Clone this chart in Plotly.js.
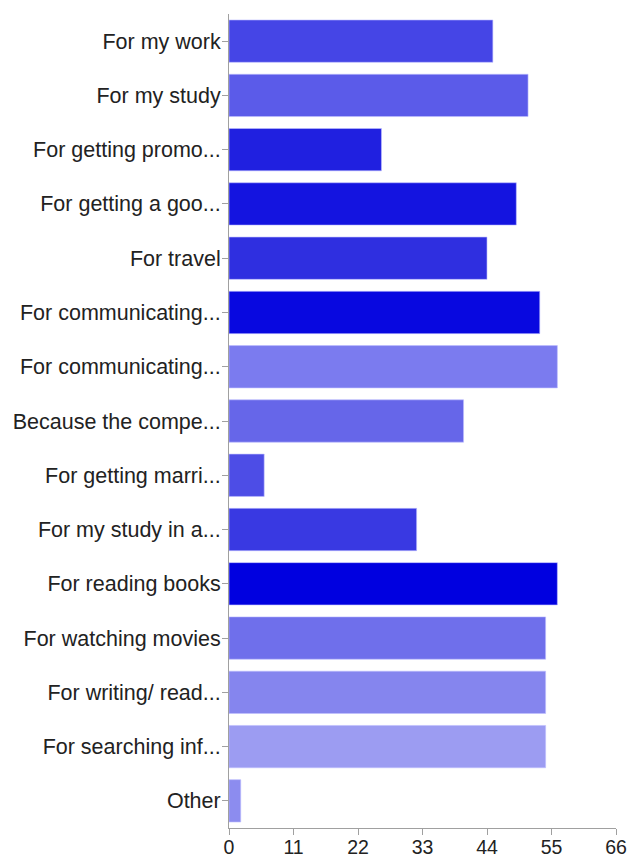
<!DOCTYPE html>
<html>
<head>
<meta charset="utf-8">
<script src="https://cdn.plot.ly/plotly-3.0.1.min.js"></script>
<style>html,body{margin:0;padding:0;background:#fff;}#chart{width:629px;height:857px;}</style>
</head>
<body>
<div id="chart"></div>
<script>
const categories = [
  "For my work",
  "For my study",
  "For getting promo...",
  "For getting a goo...",
  "For travel",
  "For communicating...",
  "For communicating...",
  "Because the compe...",
  "For getting marri...",
  "For my study in a...",
  "For reading books",
  "For watching movies",
  "For writing/ read...",
  "For searching inf...",
  "Other"
];
const values = [45, 51, 26, 49, 44, 53, 56, 40, 6, 32, 56, 54, 54, 54, 2];
const barColors = [
  "#4545e6", "#5b5be9", "#2020e0", "#1414e0", "#2f2fe0",
  "#0808e0", "#7b7bef", "#6666e9", "#4d4de6", "#3939e2",
  "#0000e0", "#6f6feb", "#8585ee", "#9c9cf2", "#8c8cef"
];
const xTicks = [0, 11, 22, 33, 44, 55, 66];
const positions = categories.map((_, i) => i);

Plotly.newPlot("chart", [{
  type: "bar",
  orientation: "h",
  y: positions,
  x: values,
  marker: { color: barColors, line: { width: 1, color: "rgba(190,190,255,0.6)" } },
  hovertext: categories,
  hoverinfo: "x+text"
}], {
  width: 629,
  height: 857,
  paper_bgcolor: "#ffffff",
  plot_bgcolor: "#ffffff",
  margin: { l: 229, r: 13, t: 14, b: 29, pad: 0 },
  bargap: 0.22,
  showlegend: false,
  font: { family: "Liberation Sans, Arial, sans-serif", color: "#222222" },
  xaxis: {
    range: [0, 66],
    tickvals: xTicks,
    ticktext: xTicks.map(String),
    showgrid: false,
    zeroline: false,
    showline: true,
    linecolor: "#a0a0a0",
    linewidth: 1,
    ticks: "outside",
    ticklen: 6,
    tickcolor: "#a0a0a0",
    ticklabelstandoff: -4,
    tickfont: { size: 19.5, color: "#222222" },
    automargin: false,
    fixedrange: true
  },
  yaxis: {
    range: [14.5, -0.5],
    tickvals: positions,
    ticktext: categories,
    showgrid: false,
    zeroline: false,
    showline: true,
    linecolor: "#a0a0a0",
    linewidth: 1,
    ticks: "outside",
    ticklen: 6,
    tickcolor: "#a0a0a0",
    ticklabelstandoff: -3,
    tickfont: { size: 21.5, color: "#222222" },
    automargin: false,
    fixedrange: true
  }
}, { displayModeBar: false, staticPlot: true });
</script>
</body>
</html>
